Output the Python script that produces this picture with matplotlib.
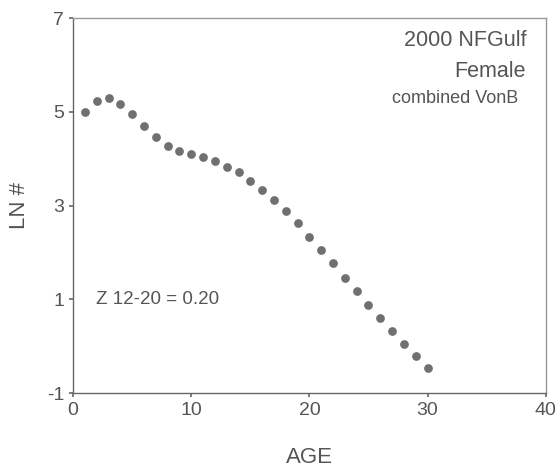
import matplotlib
matplotlib.use("Agg")
import matplotlib.pyplot as plt

ages = list(range(1, 31))
ln_n = [5.00, 5.24, 5.29, 5.17, 4.96, 4.71, 4.47, 4.27, 4.16, 4.11,
        4.03, 3.95, 3.83, 3.71, 3.52, 3.34, 3.12, 2.89, 2.62, 2.33,
        2.05, 1.77, 1.46, 1.17, 0.88, 0.60, 0.33, 0.05, -0.22, -0.47]
x_ticks = [0, 10, 20, 30, 40]
y_ticks = [-1, 1, 3, 5, 7]

plt.rcParams['font.family'] = ['Liberation Sans', 'DejaVu Sans']
plt.rcParams['axes.unicode_minus'] = False
txt = '#555555'

fig = plt.figure(figsize=(5.58, 4.69), dpi=100)
ax = fig.add_axes([0.131, 0.162, 0.847, 0.799])
ax.plot(ages, ln_n, 'o', ms=6.3, color='#707070', mec='none')

ax.set_xlim(0, 40)
ax.set_ylim(-1, 7)
ax.set_xticks(x_ticks)
ax.set_yticks(y_ticks)
ax.tick_params(colors='#666666', labelcolor=txt, labelsize=14, length=3, width=1.2)
for s in ax.spines.values():
    s.set_color('#999999')
    s.set_linewidth(1)
ax.spines['left'].set_color('#666666')
ax.spines['bottom'].set_color('#666666')

ax.set_xlabel('AGE', fontsize=16, color=txt, labelpad=20)
ax.set_ylabel('LN #', fontsize=16, color=txt, labelpad=12)

ax.text(0.960, 0.941, '2000 NFGulf', transform=ax.transAxes, ha='right', va='center', fontsize=15.5, color=txt)
ax.text(0.958, 0.858, 'Female', transform=ax.transAxes, ha='right', va='center', fontsize=15.5, color=txt)
ax.text(0.941, 0.785, 'combined VonB', transform=ax.transAxes, ha='right', va='center', fontsize=13, color=txt)
ax.text(1.95, 1.0, 'Z 12-20 = 0.20', ha='left', va='center', fontsize=13.5, color=txt)

fig.savefig('out.png', dpi=100)
